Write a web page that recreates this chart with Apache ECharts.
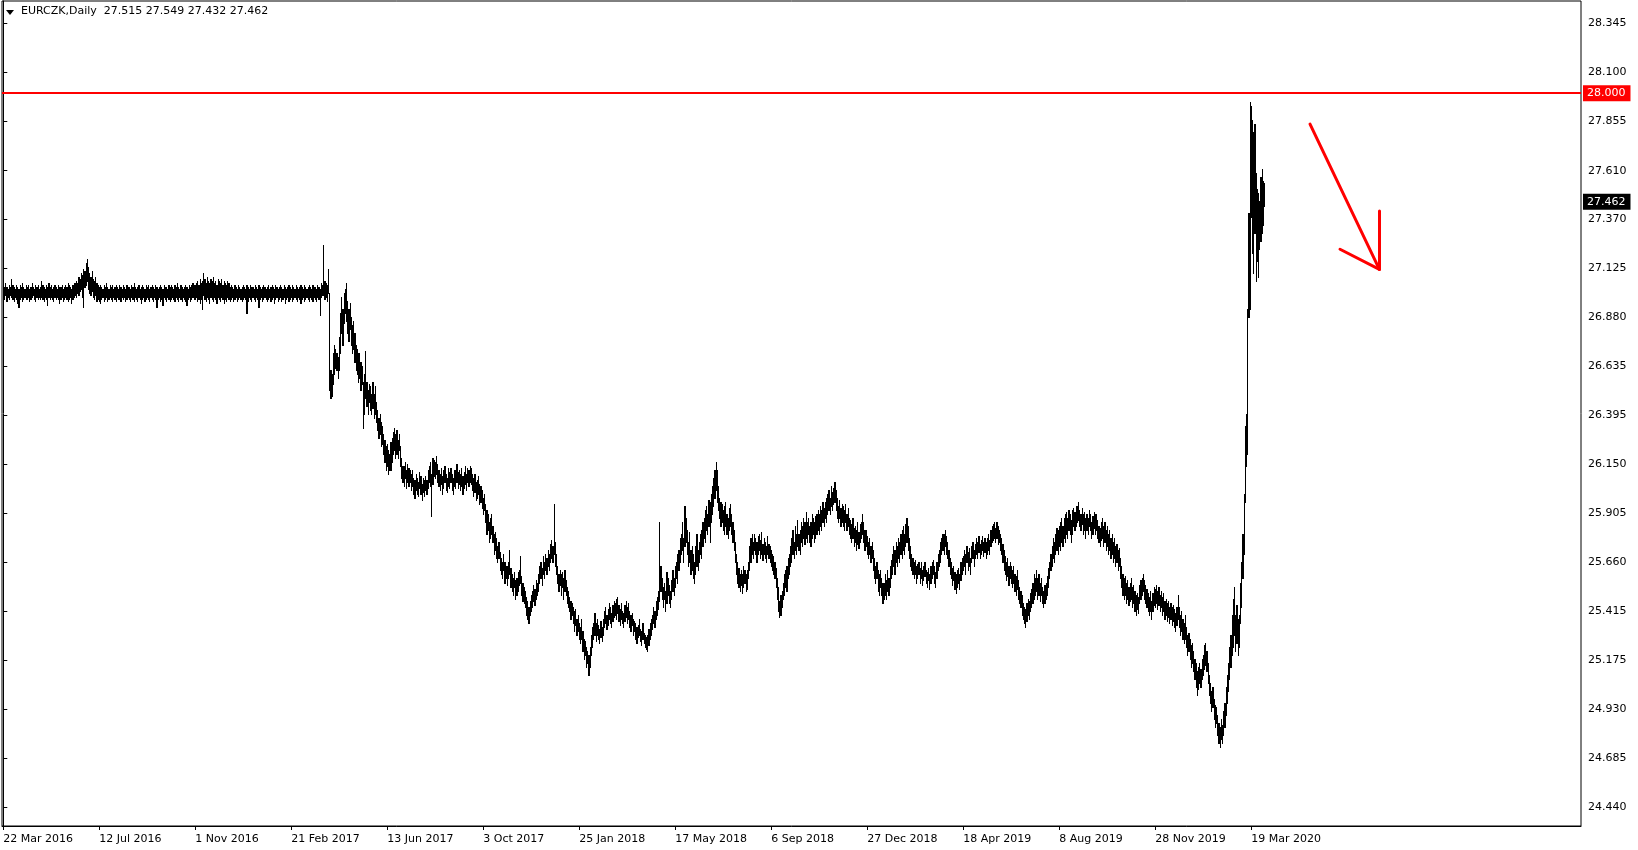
<!DOCTYPE html>
<html>
<head>
<meta charset="utf-8">
<title>EURCZK Daily</title>
<script src="https://cdn.jsdelivr.net/npm/echarts@6.0.0/dist/echarts.min.js"></script>
<style>
  html, body { margin: 0; padding: 0; background: #ffffff; }
  #chart { width: 1638px; height: 850px; }
</style>
</head>
<body>
<div id="chart"></div>
<script>
// ---------- DATA ----------
const symbolName = 'EURCZK,Daily';
const lastBar = ['27.515', '27.549', '27.432', '27.462']; // O H L C of last bar

// x-axis tick labels (every 80 bars)
const xTickIndex = [0, 80, 160, 240, 320, 400, 480, 560, 640, 720, 800, 880, 960, 1040];
const xTickLabels = ['22 Mar 2016', '12 Jul 2016', '1 Nov 2016', '21 Feb 2017', '13 Jun 2017', '3 Oct 2017',
  '25 Jan 2018', '17 May 2018', '6 Sep 2018', '27 Dec 2018', '18 Apr 2019', '8 Aug 2019', '28 Nov 2019', '19 Mar 2020'];

// y-axis tick labels
const yTickLabels = ['28.345', '28.100', '27.855', '27.610', '27.370', '27.125', '26.880', '26.635', '26.395',
  '26.150', '25.905', '25.660', '25.415', '25.175', '24.930', '24.685', '24.440'];

// horizontal levels
const resistanceLevel = 28.000;
const currentPrice = 27.462;

// hand-drawn arrow (bar index, price)
const arrowSegments = [
  [[1088.9, 27.842], [1146.7, 27.119]],
  [[1146.7, 27.409], [1146.7, 27.119]],
  [[1113.9, 27.219], [1146.7, 27.119]]
];

// daily highs
const highs = [
27.04,27.03,27.05,27.03,27.02,27.04,27.03,27.07,27.04,27.03,27.02,27.04,27.03,27.02,27.04,27.03,27.05,27.03,27.02,27.04,
27.03,27.04,27.02,27.03,27.05,27.03,27.02,27.04,27.03,27.04,27.02,27.03,27.06,27.04,27.03,27.02,27.04,27.03,27.05,27.03,
27.04,27.02,27.03,27.04,27.03,27.02,27.04,27.03,27.03,27.04,27.02,27.03,27.04,27.03,27.05,27.04,27.03,27.02,27.04,27.05,
27.05,27.06,27.05,27.08,27.07,27.10,27.09,27.12,27.11,27.15,27.17,27.13,27.10,27.08,27.11,27.07,27.06,27.08,27.05,27.04,
27.03,27.04,27.03,27.02,27.04,27.03,27.05,27.03,27.02,27.04,27.03,27.04,27.02,27.03,27.04,27.03,27.02,27.04,27.03,27.02,
27.04,27.03,27.02,27.04,27.03,27.03,27.02,27.04,27.03,27.05,27.03,27.02,27.03,27.04,27.02,27.03,27.04,27.03,27.02,27.04,
27.03,27.04,27.02,27.03,27.04,27.03,27.02,27.04,27.03,27.02,27.03,27.04,27.03,27.02,27.04,27.03,27.03,27.02,27.04,27.03,
27.04,27.03,27.02,27.04,27.03,27.05,27.03,27.02,27.04,27.03,27.02,27.03,27.04,27.03,27.02,27.04,27.03,27.04,27.05,27.04,
27.04,27.05,27.06,27.04,27.07,27.05,27.06,27.10,27.07,27.05,27.08,27.06,27.05,27.07,27.06,27.08,27.05,27.06,27.04,27.07,
27.06,27.05,27.07,27.04,27.06,27.05,27.04,27.06,27.05,27.03,27.04,27.03,27.02,27.04,27.03,27.02,27.04,27.03,27.02,27.03,
27.04,27.03,27.02,27.04,27.03,27.02,27.04,27.03,27.03,27.02,27.04,27.03,27.02,27.04,27.03,27.02,27.03,27.04,27.03,27.02,
27.03,27.04,27.02,27.03,27.04,27.03,27.02,27.04,27.03,27.02,27.03,27.04,27.03,27.02,27.04,27.03,27.02,27.03,27.04,27.03,
27.02,27.04,27.03,27.02,27.04,27.03,27.02,27.03,27.04,27.03,27.02,27.04,27.03,27.02,27.03,27.04,27.03,27.02,27.04,27.03,
27.03,27.02,27.04,27.03,27.02,27.05,27.04,27.24,27.06,27.05,27.04,27.12,27.00,26.62,26.60,26.70,26.74,26.72,26.70,26.68,
26.78,26.90,26.98,26.92,27.00,27.02,27.05,26.96,26.92,26.95,26.88,26.84,26.86,26.80,26.74,26.72,26.70,26.70,26.66,26.64,
26.56,26.60,26.71,26.56,26.52,26.55,26.54,26.50,26.56,26.50,26.54,26.46,26.42,26.38,26.40,26.36,26.34,26.30,26.27,26.24,
26.25,26.22,26.20,26.26,26.28,26.31,26.33,26.30,26.32,26.27,26.30,26.24,26.18,26.14,26.14,26.16,26.12,26.15,26.13,26.12,
26.10,26.12,26.08,26.07,26.10,26.08,26.06,26.11,26.09,26.05,26.08,26.07,26.09,26.07,26.12,26.14,26.16,26.10,26.18,26.17,
26.16,26.19,26.15,26.12,26.10,26.13,26.09,26.12,26.14,26.10,26.08,26.13,26.11,26.13,26.10,26.08,26.12,26.12,26.15,26.11,
26.12,26.10,26.13,26.09,26.11,26.14,26.10,26.13,26.12,26.14,26.13,26.10,26.08,26.10,26.06,26.07,26.09,26.05,26.04,26.02,
25.98,26.00,25.95,25.92,25.90,25.86,25.88,25.90,25.84,25.80,25.81,25.78,25.74,25.76,25.71,25.68,25.66,25.70,25.66,25.64,
25.64,25.66,25.72,25.63,25.60,25.58,25.61,25.57,25.58,25.61,25.62,25.69,25.59,25.56,25.54,25.52,25.49,25.47,25.44,25.47,
25.50,25.52,25.55,25.53,25.57,25.56,25.60,25.64,25.66,25.63,25.69,25.66,25.70,25.68,25.72,25.70,25.75,25.77,25.74,25.95,
25.76,25.70,25.64,25.60,25.62,25.60,25.61,25.58,25.62,25.57,25.54,25.52,25.49,25.47,25.46,25.44,25.42,25.43,25.38,25.40,
25.36,25.34,25.38,25.32,25.28,25.27,25.24,25.22,25.20,25.24,25.30,25.34,25.36,25.41,25.36,25.38,25.35,25.33,25.37,25.34,
25.38,25.42,25.44,25.40,25.43,25.46,25.44,25.41,25.45,25.47,25.46,25.48,25.49,25.45,25.43,25.46,25.42,25.41,25.45,25.47,
25.44,25.46,25.42,25.40,25.41,25.38,25.37,25.36,25.34,25.35,25.38,25.33,25.32,25.36,25.31,25.30,25.29,25.30,25.33,25.36,
25.38,25.40,25.44,25.42,25.47,25.49,25.52,25.86,25.64,25.58,25.54,25.56,25.52,25.61,25.58,25.55,25.52,25.57,25.62,25.58,
25.64,25.66,25.70,25.72,25.78,25.80,25.86,25.78,25.94,25.88,25.82,25.76,25.81,25.72,25.74,25.70,25.66,25.74,25.80,25.72,
25.76,25.80,25.82,25.86,25.88,25.92,25.94,25.90,25.97,25.96,26.00,26.04,26.08,26.12,26.16,26.12,26.04,25.98,25.96,25.95,
25.92,25.94,25.96,25.90,25.88,25.93,25.95,25.90,25.86,25.82,25.76,25.70,25.66,25.63,25.60,25.62,25.60,25.64,25.62,25.60,
25.62,25.66,25.74,25.78,25.80,25.76,25.80,25.78,25.76,25.79,25.80,25.77,25.81,25.75,25.78,25.76,25.74,25.79,25.75,25.74,
25.72,25.70,25.69,25.66,25.63,25.58,25.54,25.47,25.50,25.52,25.56,25.60,25.62,25.64,25.68,25.70,25.74,25.78,25.82,25.76,
25.84,25.80,25.87,25.80,25.82,25.86,25.84,25.88,25.86,25.91,25.86,25.88,25.84,25.86,25.90,25.88,25.86,25.89,25.90,25.92,
25.90,25.94,25.92,25.96,25.93,25.96,25.98,26.00,26.02,25.98,26.04,26.01,26.03,26.06,26.02,25.98,25.94,25.97,25.93,25.95,
25.94,25.92,25.95,25.90,25.93,25.88,25.87,25.85,25.88,25.83,25.84,25.82,25.86,25.81,25.85,25.86,25.90,25.86,25.82,25.82,
25.79,25.76,25.78,25.74,25.76,25.72,25.68,25.64,25.66,25.62,25.60,25.62,25.58,25.56,25.56,25.60,25.57,25.62,25.58,25.64,
25.67,25.70,25.74,25.72,25.76,25.74,25.78,25.76,25.80,25.82,25.84,25.80,25.85,25.88,25.84,25.78,25.74,25.70,25.68,25.66,
25.67,25.64,25.65,25.66,25.63,25.66,25.62,25.64,25.66,25.62,25.61,25.63,25.60,25.64,25.66,25.67,25.64,25.61,25.66,25.70,
25.72,25.76,25.78,25.80,25.80,25.82,25.79,25.76,25.72,25.68,25.66,25.63,25.64,25.61,25.60,25.62,25.63,25.60,25.66,25.68,
25.69,25.72,25.70,25.74,25.71,25.73,25.68,25.74,25.76,25.72,25.75,25.78,25.76,25.79,25.75,25.77,25.79,25.76,25.78,25.76,
25.78,25.80,25.77,25.82,25.84,25.85,25.86,25.83,25.86,25.84,25.82,25.80,25.78,25.75,25.72,25.69,25.66,25.68,25.64,25.66,
25.64,25.62,25.64,25.60,25.59,25.62,25.57,25.54,25.52,25.50,25.46,25.44,25.43,25.46,25.48,25.47,25.51,25.53,25.56,25.60,
25.58,25.62,25.58,25.60,25.56,25.58,25.54,25.52,25.55,25.56,25.59,25.63,25.66,25.70,25.74,25.78,25.76,25.80,25.83,25.82,
25.84,25.86,25.88,25.84,25.88,25.90,25.91,25.88,25.92,25.90,25.87,25.92,25.93,25.91,25.94,25.94,25.96,25.92,25.90,25.93,
25.90,25.91,25.88,25.90,25.88,25.92,25.90,25.86,25.89,25.91,25.90,25.90,25.87,25.84,25.83,25.86,25.88,25.84,25.86,25.82,
25.84,25.80,25.82,25.78,25.80,25.76,25.78,25.74,25.75,25.72,25.73,25.68,25.64,25.60,25.58,25.59,25.56,25.57,25.54,25.56,
25.58,25.54,25.55,25.52,25.50,25.51,25.49,25.55,25.57,25.58,25.60,25.57,25.55,25.53,25.51,25.49,25.52,25.47,25.51,25.54,
25.53,25.55,25.52,25.54,25.50,25.52,25.49,25.51,25.47,25.48,25.46,25.47,25.44,25.46,25.44,25.45,25.43,25.41,25.44,25.50,
25.44,25.40,25.42,25.38,25.36,25.40,25.34,25.30,25.31,25.28,25.25,25.26,25.22,25.18,25.16,25.12,25.14,25.16,25.13,25.18,
25.20,25.25,25.26,25.22,25.16,25.10,25.06,25.02,25.04,24.98,24.95,24.94,24.90,24.86,24.84,24.88,24.85,24.92,24.96,25.04,
25.10,25.16,25.24,25.30,25.40,25.48,25.54,25.40,25.45,25.38,25.40,25.56,25.66,25.80,26.00,26.34,26.40,26.92,27.40,27.95,
27.93,27.86,27.80,27.84,27.60,27.52,27.50,27.46,27.58,27.62,27.56,27.549
];

// daily lows
const lows = [
26.98,26.97,26.99,26.96,26.98,26.97,26.99,26.98,26.97,26.96,26.98,26.97,26.95,26.93,26.97,26.98,26.96,26.97,26.98,26.97,
26.97,26.98,26.96,26.97,26.98,26.99,26.97,26.96,26.98,26.97,26.98,26.97,26.98,26.97,26.96,26.98,26.97,26.94,26.98,26.97,
26.98,26.97,26.96,26.98,26.97,26.98,26.97,26.95,26.97,26.98,26.96,26.97,26.98,26.97,26.96,26.97,26.98,26.95,26.97,26.98,
26.99,26.98,27.00,26.99,27.01,27.02,26.98,26.93,27.03,27.04,27.06,27.02,27.00,26.99,27.01,26.98,26.97,26.99,26.96,26.97,
26.96,26.95,26.97,26.98,26.96,26.97,26.98,26.96,26.97,26.98,26.97,26.96,26.98,26.97,26.96,26.98,26.97,26.97,26.96,26.98,
26.97,26.98,26.96,26.97,26.98,26.97,26.96,26.98,26.97,26.96,26.98,26.97,26.96,26.98,26.97,26.95,26.97,26.98,26.96,26.97,
26.98,26.97,26.96,26.98,26.97,26.96,26.98,26.97,26.93,26.97,26.98,26.96,26.97,26.94,26.98,26.97,26.96,26.98,26.97,26.96,
26.97,26.98,26.97,26.96,26.98,26.97,26.96,26.98,26.97,26.96,26.98,26.97,26.96,26.94,26.97,26.98,26.96,26.97,26.98,26.97,
26.97,26.98,26.96,26.97,26.95,26.97,26.92,26.99,26.97,26.96,26.98,26.97,26.95,26.98,26.97,26.96,26.98,26.97,26.95,26.98,
26.97,26.96,26.98,26.97,26.95,26.97,26.96,26.98,26.97,26.96,26.97,26.98,26.96,26.97,26.98,26.96,26.97,26.98,26.97,26.96,
26.97,26.98,26.97,26.90,26.96,26.98,26.97,26.96,26.98,26.97,26.96,26.98,26.97,26.93,26.97,26.98,26.96,26.97,26.98,26.97,
26.96,26.97,26.98,26.96,26.97,26.98,26.95,26.97,26.98,26.96,26.97,26.98,26.96,26.97,26.98,26.95,26.97,26.98,26.96,26.97,
26.98,26.96,26.97,26.98,26.97,26.96,26.98,26.97,26.95,26.97,26.98,26.96,26.97,26.98,26.97,26.96,26.98,26.97,26.96,26.98,
26.97,26.96,26.98,26.97,26.89,26.98,26.99,26.99,26.97,26.98,26.96,27.00,26.52,26.48,26.49,26.55,26.60,26.63,26.62,26.58,
26.62,26.70,26.80,26.74,26.85,26.90,26.86,26.80,26.76,26.82,26.74,26.70,26.72,26.66,26.62,26.60,26.56,26.58,26.52,26.55,
26.33,26.40,26.48,26.44,26.40,26.46,26.42,26.40,26.43,26.38,26.40,26.36,26.32,26.28,26.30,26.24,26.25,26.20,26.16,26.12,
26.14,26.10,26.12,26.12,26.16,26.20,26.22,26.18,26.20,26.18,26.22,26.14,26.08,26.06,26.04,26.08,26.03,26.06,26.04,26.06,
26.02,26.04,26.00,25.98,26.02,26.00,25.99,26.03,26.00,25.97,26.01,25.99,26.02,26.00,26.03,26.06,26.04,25.89,26.05,26.09,
26.08,26.10,26.06,26.04,26.02,26.05,26.00,26.03,26.06,26.02,26.01,26.04,26.03,26.06,26.02,26.00,26.04,26.03,26.06,26.03,
26.05,26.02,26.04,26.00,26.03,26.05,26.02,26.06,26.04,26.06,26.05,26.02,25.99,26.01,25.97,25.98,26.00,25.95,25.96,25.93,
25.90,25.92,25.86,25.80,25.82,25.76,25.78,25.80,25.76,25.70,25.72,25.68,25.66,25.68,25.62,25.60,25.58,25.62,25.56,25.58,
25.55,25.58,25.60,25.54,25.52,25.50,25.54,25.48,25.50,25.52,25.55,25.56,25.50,25.47,25.46,25.44,25.40,25.38,25.36,25.40,
25.42,25.44,25.47,25.45,25.48,25.50,25.52,25.56,25.58,25.55,25.60,25.58,25.62,25.60,25.64,25.62,25.66,25.68,25.66,25.70,
25.64,25.60,25.56,25.52,25.55,25.50,25.54,25.48,25.52,25.50,25.46,25.44,25.42,25.38,25.40,25.36,25.32,25.35,25.30,25.32,
25.28,25.26,25.28,25.22,25.18,25.20,25.14,25.16,25.10,25.14,25.20,25.24,25.28,25.30,25.27,25.30,25.28,25.26,25.29,25.27,
25.30,25.34,25.36,25.33,25.35,25.38,25.36,25.34,25.37,25.39,25.40,25.38,25.41,25.37,25.35,25.38,25.36,25.34,25.37,25.39,
25.36,25.38,25.34,25.32,25.35,25.30,25.32,25.28,25.26,25.29,25.30,25.27,25.25,25.28,25.26,25.24,25.23,25.22,25.25,25.28,
25.30,25.33,25.36,25.34,25.38,25.40,25.43,25.47,25.52,25.48,25.44,25.48,25.42,25.46,25.50,25.46,25.44,25.48,25.52,25.50,
25.54,25.58,25.56,25.62,25.66,25.70,25.72,25.66,25.74,25.76,25.70,25.64,25.66,25.60,25.62,25.58,25.56,25.60,25.64,25.62,
25.66,25.70,25.68,25.74,25.78,25.76,25.82,25.80,25.84,25.76,25.86,25.90,25.94,25.98,26.02,25.96,25.92,25.88,25.84,25.86,
25.82,25.80,25.84,25.80,25.78,25.82,25.84,25.80,25.76,25.72,25.66,25.60,25.56,25.54,25.52,25.55,25.51,25.54,25.56,25.52,
25.53,25.58,25.62,25.66,25.70,25.68,25.72,25.70,25.66,25.70,25.72,25.68,25.70,25.67,25.70,25.68,25.66,25.70,25.68,25.66,
25.64,25.62,25.60,25.58,25.54,25.48,25.42,25.39,25.40,25.44,25.48,25.50,25.54,25.52,25.58,25.60,25.64,25.66,25.70,25.68,
25.72,25.70,25.74,25.72,25.70,25.76,25.74,25.78,25.75,25.78,25.76,25.80,25.76,25.74,25.78,25.80,25.76,25.78,25.80,25.82,
25.80,25.84,25.82,25.86,25.84,25.88,25.86,25.90,25.92,25.90,25.94,25.92,25.95,25.96,25.92,25.88,25.86,25.88,25.84,25.86,
25.84,25.82,25.86,25.82,25.84,25.80,25.78,25.76,25.78,25.74,25.76,25.72,25.75,25.73,25.76,25.78,25.80,25.76,25.72,25.74,
25.70,25.68,25.70,25.66,25.68,25.62,25.58,25.56,25.58,25.52,25.50,25.54,25.50,25.46,25.48,25.50,25.48,25.52,25.50,25.54,
25.58,25.60,25.64,25.60,25.66,25.64,25.68,25.66,25.70,25.68,25.72,25.70,25.74,25.76,25.72,25.68,25.64,25.62,25.60,25.58,
25.60,25.56,25.58,25.60,25.56,25.58,25.55,25.57,25.59,25.56,25.54,25.57,25.53,25.56,25.58,25.60,25.56,25.54,25.58,25.62,
25.64,25.66,25.70,25.72,25.70,25.74,25.70,25.68,25.64,25.60,25.58,25.55,25.57,25.53,25.51,25.54,25.56,25.53,25.57,25.60,
25.62,25.64,25.60,25.66,25.62,25.64,25.60,25.66,25.68,25.64,25.68,25.70,25.68,25.71,25.68,25.70,25.72,25.69,25.71,25.68,
25.70,25.72,25.70,25.74,25.76,25.77,25.78,25.76,25.78,25.75,25.76,25.72,25.70,25.66,25.62,25.60,25.57,25.59,25.55,25.58,
25.56,25.54,25.56,25.52,25.50,25.53,25.48,25.46,25.44,25.40,25.38,25.36,25.34,25.37,25.40,25.38,25.42,25.44,25.46,25.48,
25.50,25.52,25.48,25.50,25.47,25.50,25.46,25.44,25.46,25.48,25.50,25.54,25.58,25.62,25.64,25.68,25.66,25.70,25.72,25.70,
25.74,25.72,25.76,25.74,25.78,25.76,25.80,25.78,25.82,25.80,25.76,25.80,25.84,25.82,25.84,25.86,25.87,25.84,25.82,25.85,
25.80,25.82,25.78,25.82,25.80,25.84,25.82,25.78,25.80,25.83,25.80,25.82,25.78,25.76,25.74,25.77,25.78,25.74,25.76,25.72,
25.74,25.70,25.72,25.68,25.70,25.66,25.68,25.64,25.66,25.62,25.64,25.58,25.54,25.50,25.48,25.50,25.46,25.48,25.45,25.47,
25.48,25.44,25.46,25.42,25.40,25.43,25.41,25.46,25.48,25.50,25.52,25.48,25.46,25.44,25.42,25.40,25.42,25.38,25.42,25.45,
25.44,25.46,25.43,25.45,25.42,25.44,25.40,25.42,25.38,25.40,25.37,25.39,25.36,25.38,25.35,25.37,25.34,25.32,25.35,25.38,
25.34,25.30,25.32,25.28,25.26,25.28,25.24,25.20,25.22,25.18,25.14,25.16,25.12,25.08,25.04,25.00,25.03,25.06,25.04,25.08,
25.10,25.13,25.15,25.12,25.06,25.00,24.96,24.92,24.94,24.88,24.84,24.86,24.80,24.76,24.74,24.78,24.76,24.80,24.84,24.90,
24.96,25.02,25.08,25.14,25.20,25.24,25.30,25.22,25.26,25.20,25.24,25.36,25.44,25.58,25.70,25.96,26.14,26.20,26.88,26.92,
27.38,27.20,27.10,27.30,27.06,27.16,27.08,27.22,27.26,27.30,27.34,27.432
];

// ---------- CHART ----------
const FONT = "'DejaVu Sans', sans-serif";
const n = Math.min(highs.length, lows.length);
const barData = [];
for (let i = 0; i < n; i++) barData.push([i, lows[i], highs[i]]);

function renderHL(params, api) {
  const i = api.value(0);
  const pLo = api.coord([i, api.value(1)]);
  const pHi = api.coord([i, api.value(2)]);
  const pNext = api.coord([i + 1, api.value(1)]);
  const x0 = Math.floor(pLo[0]);
  const x1 = Math.floor(pNext[0]);
  const w = Math.max(1, x1 - x0);
  const yTop = Math.round(pHi[1]);
  const yBot = Math.round(pLo[1]) + 1;
  return {
    type: 'rect',
    shape: { x: x0, y: yTop, width: w, height: Math.max(1, yBot - yTop) },
    style: { fill: '#000000' }
  };
}

const chart = echarts.init(document.getElementById('chart'), null, { renderer: 'canvas' });

chart.setOption({
  animation: false,
  backgroundColor: '#ffffff',
  title: {
    text: symbolName + '  ' + lastBar.join(' '),
    left: 21,
    top: 6,
    padding: 0,
    textStyle: { fontFamily: FONT, fontSize: 11, fontWeight: 'normal', color: '#000000' }
  },
  graphic: [{
    type: 'polygon',
    shape: { points: [[6, 10], [14, 10], [10, 15]] },
    style: { fill: '#000000' }
  }],
  grid: {
    left: 2, right: 57, top: 1, bottom: 24,
    show: true, borderColor: '#000000', borderWidth: 1, backgroundColor: 'transparent'
  },
  xAxis: {
    type: 'value',
    min: -1.08,
    max: 1314.7,
    position: 'bottom',
    axisLine: { show: true, lineStyle: { color: '#000000', width: 1 } },
    axisTick: { show: true, inside: false, length: 4, customValues: xTickIndex, lineStyle: { color: '#000000' } },
    axisLabel: {
      customValues: xTickIndex,
      formatter: function (v) {
        const k = xTickIndex.indexOf(Math.round(v));
        return k >= 0 ? xTickLabels[k] : '';
      },
      align: 'left', margin: 8, color: '#000000', fontFamily: FONT, fontSize: 11
    },
    splitLine: { show: false }
  },
  yAxis: {
    type: 'value',
    position: 'right',
    min: 24.348,
    max: 28.4545,
    axisLine: { show: true, lineStyle: { color: '#000000', width: 1 } },
    axisTick: { show: true, inside: false, length: 4, customValues: yTickLabels.map(Number), lineStyle: { color: '#000000' } },
    axisLabel: {
      customValues: yTickLabels.map(Number),
      formatter: function (v) { return v.toFixed(3); },
      margin: 7, padding: [4, 0, 0, 0], color: '#000000', fontFamily: FONT, fontSize: 11
    },
    splitLine: { show: false }
  },
  series: [
    {
      type: 'custom',
      name: 'EURCZK',
      renderItem: renderHL,
      data: barData,
      dimensions: ['i', 'low', 'high'],
      encode: { x: 0, y: [1, 2] },
      clip: true,
      silent: true,
      markLine: {
        silent: true,
        symbol: ['none', 'none'],
        animation: false,
        data: [
          {
            yAxis: resistanceLevel,
            lineStyle: { color: '#ff0000', width: 2, type: 'solid' },
            label: {
              show: true, position: 'end', distance: 2, offset: [0, 1],
              formatter: resistanceLevel.toFixed(3),
              backgroundColor: '#ff0000', color: '#ffffff',
              padding: [3, 5, 2, 4], fontFamily: FONT, fontSize: 11
            }
          },
          {
            yAxis: currentPrice,
            lineStyle: { color: 'rgba(0,0,0,0)', width: 1, type: 'solid', opacity: 1 },
            label: {
              show: true, position: 'end', distance: 2, offset: [0, 1],
              formatter: currentPrice.toFixed(3),
              backgroundColor: '#000000', color: '#ffffff',
              padding: [3, 5, 2, 4], fontFamily: FONT, fontSize: 11
            }
          }
        ]
      }
    },
    {
      type: 'lines',
      coordinateSystem: 'cartesian2d',
      silent: true,
      polyline: false,
      lineStyle: { color: '#ff0000', width: 3, opacity: 1, cap: 'round' },
      data: arrowSegments.map(function (s) { return { coords: s }; })
    }
  ]
});
</script>
</body>
</html>
